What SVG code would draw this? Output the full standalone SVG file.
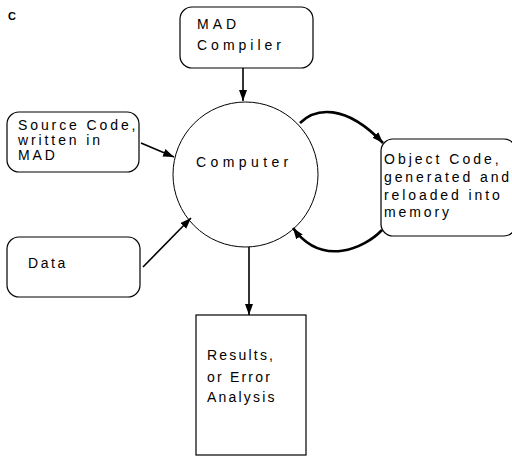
<svg xmlns="http://www.w3.org/2000/svg" width="512" height="456" viewBox="0 0 512 456">
<style>
.box{fill:#fff;stroke:#000;stroke-width:1.2}
.t{font-family:"Liberation Sans",Arial,sans-serif;font-size:14px;fill:#000}
.ln{fill:none;stroke:#000;stroke-width:1.6}
.cv{fill:none;stroke:#000;stroke-width:2.6}
</style>
<defs>
<marker id="ah" markerUnits="userSpaceOnUse" markerWidth="12" markerHeight="10" refX="11" refY="4" orient="auto">
<path d="M0,0 L11,4 L0,8 Z" fill="#000"/>
</marker>
</defs>
<rect width="512" height="456" fill="#fff"/>
<text x="8" y="20" style="font-family:'Liberation Sans',Arial,sans-serif;font-size:11px;font-weight:bold">C</text>
<g id="compiler">
<rect class="box" x="180" y="7" width="133" height="61" rx="12"/>
<text class="t" x="197" y="29" font-size="13" letter-spacing="4">MAD</text>
<text class="t" x="197" y="50" font-size="13" letter-spacing="4">Compiler</text>
</g>
<g id="source">
<rect class="box" x="7" y="112" width="132" height="60" rx="12"/>
<text class="t" x="18" y="130" font-size="13" letter-spacing="2.9">Source Code,</text>
<text class="t" x="18" y="145" font-size="13" letter-spacing="2.9">written in</text>
<text class="t" x="18" y="160" font-size="13" letter-spacing="2.9">MAD</text>
</g>
<g id="data">
<rect class="box" x="7" y="237" width="133" height="60" rx="12"/>
<text class="t" x="28" y="268" letter-spacing="2.6">Data</text>
</g>
<g id="computer">
<circle cx="245.5" cy="174.5" r="72.5" fill="#fff" stroke="#000" stroke-width="1"/>
<text class="t" x="196" y="167" letter-spacing="4.4">Computer</text>
</g>
<g id="object">
<rect class="box" x="381" y="139" width="135" height="97" rx="12"/>
<text class="t" x="384" y="164" letter-spacing="3">Object Code,</text>
<text class="t" x="384" y="182" letter-spacing="2.9">generated and</text>
<text class="t" x="384" y="200" letter-spacing="2.9">reloaded into</text>
<text class="t" x="384" y="217" letter-spacing="2.9">memory</text>
</g>
<g id="results">
<rect class="box" x="196" y="315" width="110" height="140"/>
<text class="t" x="207" y="360" letter-spacing="2.2">Results,</text>
<text class="t" x="207" y="382" letter-spacing="2.2">or Error</text>
<text class="t" x="207" y="402" letter-spacing="2.2">Analysis</text>
</g>
<g id="connectors">
<line class="ln" x1="243" y1="68" x2="243" y2="101" marker-end="url(#ah)"/>
<line class="ln" x1="141" y1="143" x2="174" y2="157" marker-end="url(#ah)"/>
<line class="ln" x1="143" y1="267" x2="191" y2="218" marker-end="url(#ah)"/>
<line class="ln" x1="249" y1="247" x2="249" y2="315" marker-end="url(#ah)"/>
<path class="cv" d="M300,123 C315,108 345,103 383,143" marker-end="url(#ah)"/>
<path class="cv" d="M382,230 C365,248 322,268 293,228" marker-end="url(#ah)"/>
</g>
</svg>
